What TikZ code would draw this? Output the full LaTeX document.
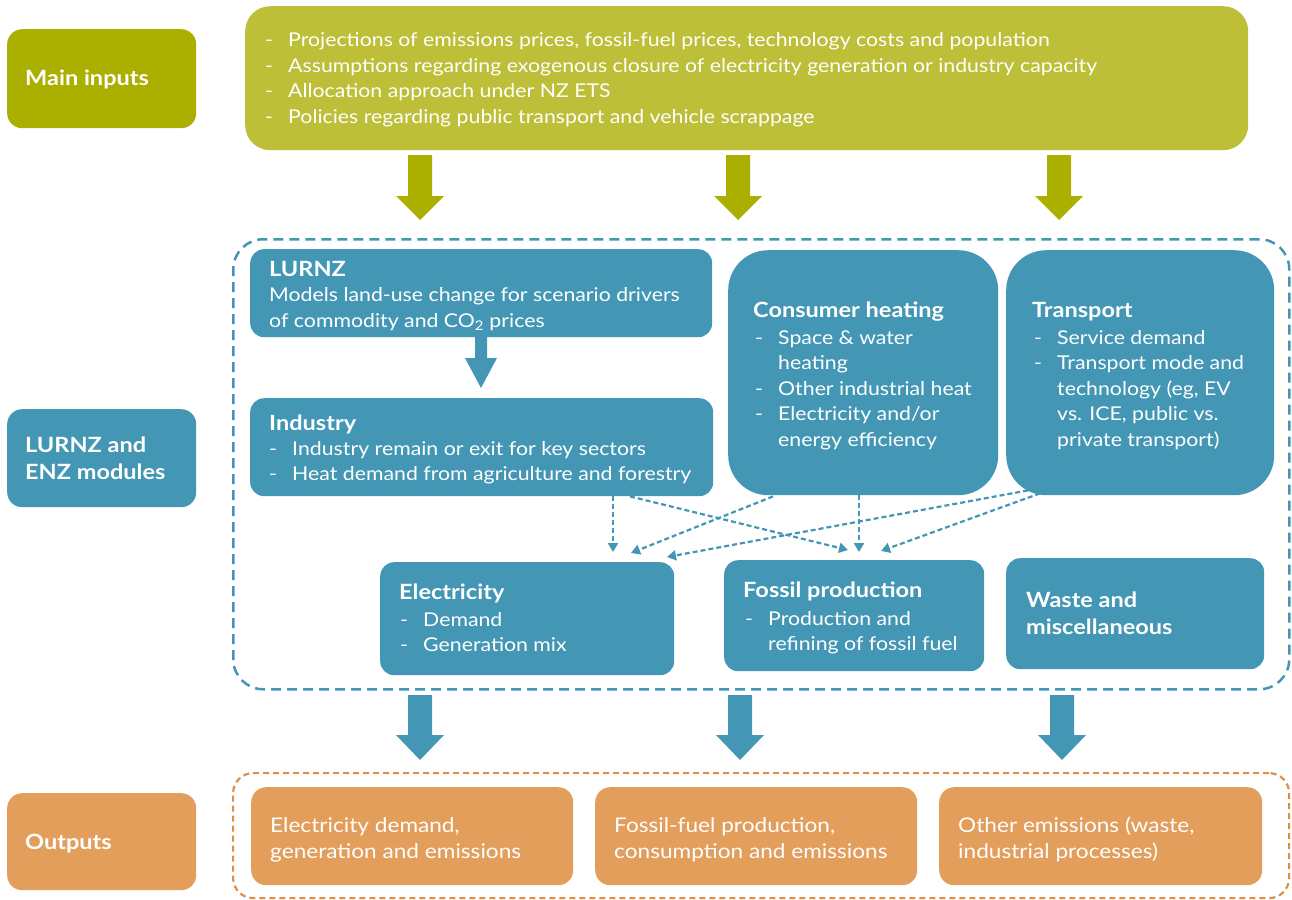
\documentclass[tikz,border=0pt]{standalone}
\usepackage{fontspec}
\setmainfont{Lato}[FakeStretch=1.12]
\usetikzlibrary{arrows.meta,calc}
\definecolor{oliveDark}{HTML}{AAAF00}
\definecolor{oliveLight}{HTML}{BCBF37}
\definecolor{modBlue}{HTML}{4397B5}
\definecolor{outOrange}{HTML}{E39E5C}
\definecolor{outOrangeLine}{HTML}{E08E45}
\newcommand\dsh{\makebox[23pt][l]{-}}
\newcommand\hng{\hspace*{23pt}}
\newcommand\blockarrow[7]{% x, ytop, yhead, ytip, halfshaft, halfhead, colour
  \fill[#7] ({#1-#5},#2) -- ({#1+#5},#2) -- ({#1+#5},#3) -- ({#1+#6},#3) -- (#1,#4)
    -- ({#1-#6},#3) -- ({#1-#5},#3) -- cycle;}
\begin{document}
\begin{tikzpicture}[x=1pt,y=-1pt,
  boxbase/.style={draw=none, inner sep=0, anchor=north west},
  bluebox/.style={boxbase, fill=modBlue, rounded corners=14pt},
  roundbluebox/.style={boxbase, fill=modBlue, rounded corners=40pt},
  orangebox/.style={boxbase, fill=outOrange, rounded corners=15pt},
  body/.style={font=\fontsize{19}{25.5}\selectfont, text=white, inner sep=0, anchor=base west},
  outbody/.style={font=\fontsize{20.2}{26}\selectfont, text=white, inner sep=0, anchor=base west},
  ttl/.style={font=\fontsize{21}{27.5}\selectfont\bfseries, text=white, inner sep=0, anchor=base west},
  dasharrow/.style={draw=modBlue, line width=2.2pt, dash pattern=on 5pt off 3pt,
     -{Triangle[length=9pt,width=10pt]}},
]
\useasboundingbox (0,0) rectangle (1292,899);

% ---------- Main inputs ----------
\node[boxbase, fill=oliveDark, rounded corners=15pt, minimum width=189pt, minimum height=99pt] (mainlbl) at (7,29) {};
\node[ttl] (mainlblT) at (25,85) {Main inputs};
\node[boxbase, fill=oliveLight, rounded corners=25pt, minimum width=1003pt, minimum height=144pt] (inputs) at (245,6) {};
\node[body] (inputsT) at (265,46.7) {\begin{tabular}[t]{@{}l@{}}
\dsh Projections of emissions prices, fossil-fuel prices, technology costs and population\\
\dsh Assumptions regarding exogenous closure of electricity generation or industry capacity\\
\dsh Allocation approach under NZ ETS\\
\dsh Policies regarding public transport and vehicle scrappage
\end{tabular}};

\blockarrow{420}{155}{196}{220}{12}{24}{oliveDark}
\blockarrow{738}{155}{196}{220}{12}{24}{oliveDark}
\blockarrow{1059}{155}{196}{220}{12}{24}{oliveDark}

% ---------- Modules ----------
\node[boxbase, draw=modBlue, line width=2.5pt, dash pattern=on 10pt off 6pt, rounded corners=30pt,
  minimum width=1056pt, minimum height=450pt] (modframe) at (232,238) {};
\node[boxbase, fill=modBlue, rounded corners=15pt, minimum width=189pt, minimum height=98pt] (modlbl) at (7,409) {};
\node[ttl] (modlblT) at (25,452) {\begin{tabular}[t]{@{}l@{}}LURNZ and\\ENZ modules\end{tabular}};

\node[bluebox, minimum width=462pt, minimum height=88pt] (lurnz) at (250,249) {};
\node[ttl] (lurnzT) at (269,276) {LURNZ};
\node[body] (lurnzB) at (269,301.7) {\begin{tabular}[t]{@{}l@{}}
Models land-use change for scenario drivers\\
of commodity and CO\textsubscript{2} prices
\end{tabular}};

\blockarrow{481}{336}{358}{388}{6}{16}{modBlue}

\node[bluebox, minimum width=463pt, minimum height=98pt] (ind) at (250,398) {};
\node[ttl] (indT) at (269,430) {Industry};
\node[body] (indB) at (269,455) {\begin{tabular}[t]{@{}l@{}}
\dsh Industry remain or exit for key sectors\\
\dsh Heat demand from agriculture and forestry
\end{tabular}};

\node[roundbluebox, minimum width=270pt, minimum height=245pt] (heat) at (728,250) {};
\node[ttl] (heatT) at (753,317) {Consumer heating};
\node[body] (heatB) at (755,344) {\begin{tabular}[t]{@{}l@{}}
\dsh Space \& water\\
\hng heating\\
\dsh Other industrial heat\\
\dsh Electricity and/or\\
\hng energy efficiency
\end{tabular}};

\node[roundbluebox, minimum width=268pt, minimum height=245pt] (trans) at (1006,250) {};
\node[ttl] (transT) at (1032,317) {Transport};
\node[body] (transB) at (1034,344) {\begin{tabular}[t]{@{}l@{}}
\dsh Service demand\\
\dsh Transport mode and\\
\hng technology (eg, EV\\
\hng vs. ICE, public vs.\\
\hng private transport)
\end{tabular}};

\node[bluebox, minimum width=294pt, minimum height=113pt] (elec) at (380,562) {};
\node[ttl] (elecT) at (399,599) {Electricity};
\node[body] (elecB) at (400,626) {\begin{tabular}[t]{@{}l@{}}
\dsh Demand\\
\dsh Generation mix
\end{tabular}};

\node[bluebox, minimum width=260pt, minimum height=111pt] (fossil) at (724,560) {};
\node[ttl] (fossilT) at (743,597) {Fossil production};
\node[body] (fossilB) at (745,625) {\begin{tabular}[t]{@{}l@{}}
\dsh Production and\\
\hng refining of fossil fuel
\end{tabular}};

\node[bluebox, minimum width=258pt, minimum height=111pt] (waste) at (1006,558) {};
\node[ttl] (wasteT) at (1026,607) {\begin{tabular}[t]{@{}l@{}}Waste and\\miscellaneous\end{tabular}};

% dashed connectors
\draw[dasharrow] (ind.south -| 613,0) -- ($(elec.north -| 613,0)+(0,-10)$);
\draw[dasharrow] (ind.south -| 630,0) -- ($(fossil.north -| 848,0)+(0,-10)$);
\draw[dasharrow] ($(heat.south west)+(45,1)$) -- ($(elec.north -| 631,0)+(0,-9)$);
\draw[dasharrow] (heat.south -| 859,0) -- ($(fossil.north -| 859,0)+(0,-8)$);
\draw[dasharrow] ($(trans.south west)+(22,-5)$) -- ($(elec.north -| 667,0)+(0,-5)$);
\draw[dasharrow] ($(trans.south west)+(34,-2)$) -- ($(fossil.north -| 881,0)+(0,-9)$);

\blockarrow{420}{695}{735}{760}{12}{24}{modBlue}
\blockarrow{740}{695}{735}{760}{12}{24}{modBlue}
\blockarrow{1062}{695}{735}{760}{12}{24}{modBlue}

% ---------- Outputs ----------
\node[boxbase, draw=outOrangeLine, line width=2.2pt, dash pattern=on 6pt off 4pt, rounded corners=20pt,
  minimum width=1056pt, minimum height=125pt] (outframe) at (232,772) {};
\node[boxbase, fill=outOrange, rounded corners=15pt, minimum width=189pt, minimum height=97pt] (outlbl) at (7,793) {};
\node[ttl] (outlblT) at (25,849) {Outputs};

\node[orangebox, minimum width=322pt, minimum height=98pt] (out1) at (251,787) {};
\node[outbody] (out1T) at (270,832) {\begin{tabular}[t]{@{}l@{}}Electricity demand,\\generation and emissions\end{tabular}};
\node[orangebox, minimum width=322pt, minimum height=98pt] (out2) at (595,787) {};
\node[outbody] (out2T) at (614,832) {\begin{tabular}[t]{@{}l@{}}Fossil-fuel production,\\consumption and emissions\end{tabular}};
\node[orangebox, minimum width=323pt, minimum height=98pt] (out3) at (939,787) {};
\node[outbody] (out3T) at (958,832) {\begin{tabular}[t]{@{}l@{}}Other emissions (waste,\\industrial processes)\end{tabular}};
\end{tikzpicture}
\end{document}
